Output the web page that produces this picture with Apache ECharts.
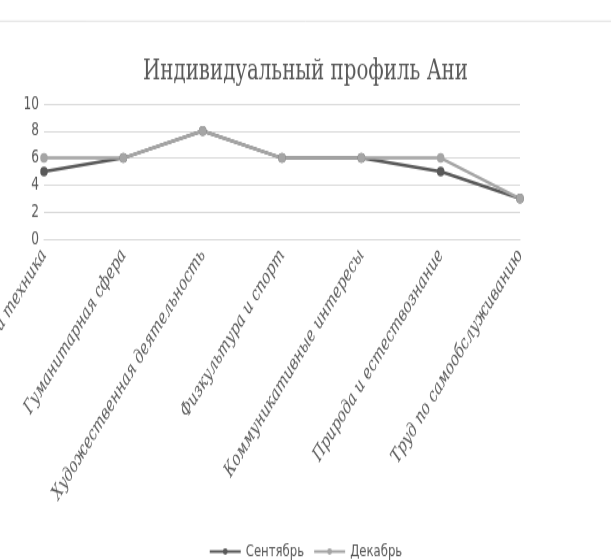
<!DOCTYPE html>
<html>
<head>
<meta charset="utf-8">
<script src="https://cdn.jsdelivr.net/npm/echarts@6/dist/echarts.min.js"></script>
<style>
  html, body { margin: 0; padding: 0; background: #fff; overflow: hidden; }
  #frame { width: 611px; height: 560px; overflow: hidden; }
  /* The chart is laid out at a shorter height and stretched vertically,
     giving the tall, narrow lettering of the printed profile sheet. */
  #chart {
    width: 611px;
    height: 431px;
    transform: scaleY(1.2993);
    transform-origin: 0 0;
  }
</style>
</head>
<body>
<div id="frame"><div id="chart"></div></div>
<script>
// Interest areas on the horizontal axis
const categories = [
  'Наука и техника',
  'Гуманитарная сфера',
  'Художественная деятельность',
  'Физкультура и спорт',
  'Коммуникативные интересы',
  'Природа и естествознание',
  'Труд по самообслуживанию'
];

// Scores for each month
const septemberValues = [5, 6, 8, 6, 6, 5, 3];
const decemberValues = [6, 6, 8, 6, 6, 6, 3];

// Value axis range and step
const yMin = 0;
const yMax = 10;
const yStep = 2;

const seriesNames = ['Сентябрь', 'Декабрь'];
const chartTitle = 'Индивидуальный профиль Ани';

const chart = echarts.init(document.getElementById('chart'), null, { renderer: 'canvas' });

chart.setOption({
  backgroundColor: '#ffffff',
  animation: false,
  title: {
    text: chartTitle,
    left: 'center',
    top: 39.5,
    textStyle: {
      fontFamily: 'DejaVu Serif Condensed, DejaVu Serif',
      fontWeight: 'normal',
      fontSize: 22,
      color: '#595959'
    }
  },
  legend: {
    top: 413,
    left: 'center',
    itemWidth: 31,
    itemHeight: 6,
    itemGap: 9,
    textStyle: {
      fontFamily: 'DejaVu Sans Condensed, DejaVu Sans',
      fontSize: 13,
      color: '#595959'
    },
    data: seriesNames
  },
  grid: {
    left: 44,
    right: 91,
    top: 80,
    height: 104,
    containLabel: false,
    outerBoundsMode: 'none'
  },
  xAxis: {
    type: 'category',
    data: categories,
    boundaryGap: false,
    axisLine: { lineStyle: { color: '#d9d9d9' } },
    axisTick: { show: false },
    axisLabel: {
      rotate: 52,
      interval: 0,
      margin: 10,
      fontFamily: 'DejaVu Serif Condensed, DejaVu Serif',
      fontStyle: 'italic',
      fontSize: 15,
      color: '#595959'
    }
  },
  yAxis: {
    type: 'value',
    min: yMin,
    max: yMax,
    interval: yStep,
    axisLine: { show: false },
    axisTick: { show: false },
    splitLine: { lineStyle: { color: '#d9d9d9', width: 1 } },
    axisLabel: {
      margin: 5,
      fontFamily: 'DejaVu Sans Condensed, DejaVu Sans',
      fontSize: 13.5,
      color: '#595959'
    }
  },
  series: [
    {
      name: seriesNames[0],
      type: 'line',
      data: septemberValues,
      symbol: 'circle',
      symbolSize: 7.5,
      lineStyle: { color: '#595959', width: 2.5 },
      itemStyle: { color: '#595959' }
    },
    {
      name: seriesNames[1],
      type: 'line',
      data: decemberValues,
      symbol: 'circle',
      symbolSize: 7.5,
      lineStyle: { color: '#a5a5a5', width: 2.5 },
      itemStyle: { color: '#a5a5a5' }
    }
  ],
  graphic: [
    {
      type: 'line',
      shape: { x1: 0, y1: 16.3, x2: 611, y2: 16.3 },
      style: { stroke: '#e3e3e3', lineWidth: 1 }
    }
  ]
});
</script>
</body>
</html>
